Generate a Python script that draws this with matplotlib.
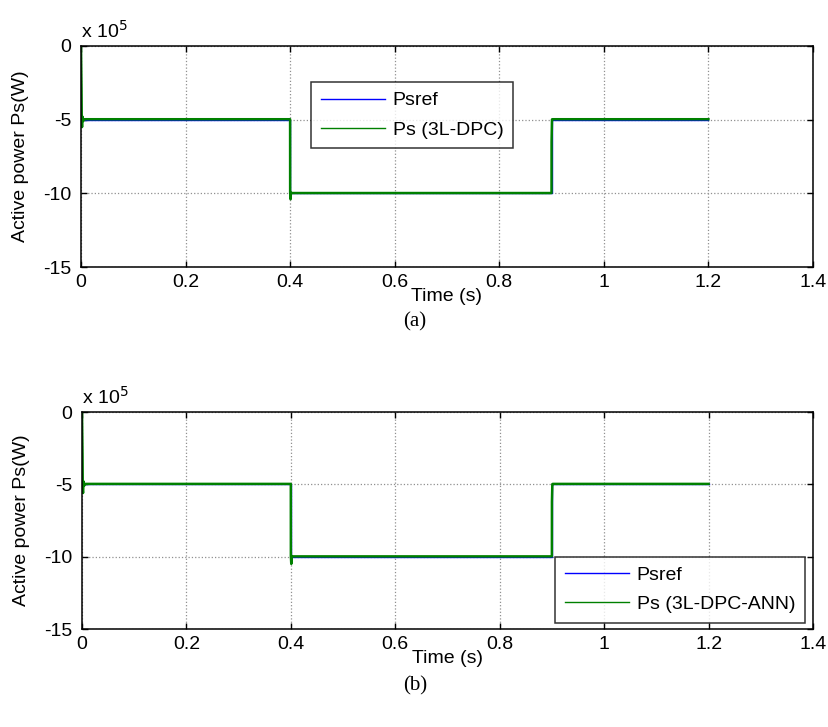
import matplotlib
matplotlib.use("Agg")
import matplotlib.pyplot as plt
from matplotlib.ticker import FuncFormatter

# ---- data ----
t_ref = [0.0, 0.4, 0.4, 0.9, 0.9, 1.2]
p_ref = [-5e5, -5e5, -10e5, -10e5, -5e5, -5e5]

t_dpc = [0.0, 0.001, 0.0015, 0.002, 0.003, 0.004, 0.006, 0.3999, 0.4, 0.4008, 0.4015, 0.403,
         0.8999, 0.9, 0.9008, 0.902, 1.2]
p_dpc = [0.0, -3.0e5, -5.2e5, -5.5e5, -4.8e5, -5.1e5, -4.97e5, -4.97e5, -9.95e5, -10.4e5, -9.95e5, -9.98e5,
         -9.98e5, -6.5e5, -4.98e5, -4.97e5, -4.97e5]

t_ann = [0.0, 0.001, 0.0015, 0.002, 0.003, 0.004, 0.006, 0.3999, 0.4, 0.4008, 0.4015, 0.403,
         0.8999, 0.9, 0.9008, 0.902, 1.2]
p_ann = [0.0, -3.0e5, -5.4e5, -5.6e5, -4.8e5, -5.1e5, -4.97e5, -4.97e5, -9.95e5, -10.5e5, -9.95e5, -9.98e5,
         -9.98e5, -6.2e5, -4.98e5, -4.97e5, -4.97e5]

x_ticks = [0, 0.2, 0.4, 0.6, 0.8, 1, 1.2, 1.4]
x_tick_labels = ["0", "0.2", "0.4", "0.6", "0.8", "1", "1.2", "1.4"]
y_ticks = [0, -5e5, -10e5, -15e5]

labels_a = ["Psref", "Ps (3L-DPC)"]
labels_b = ["Psref", "Ps (3L-DPC-ANN)"]

plt.rcParams['font.family'] = ['Liberation Sans', 'DejaVu Sans']

fig = plt.figure(figsize=(8.29, 7.27), dpi=100)

def W(px):
    return px / 829.0

def H(py):
    return 1 - py / 727.0

ax1 = fig.add_axes([W(81), H(267), W(813 - 81), H(46) - H(267)])
ax2 = fig.add_axes([W(82), H(629), W(813 - 82), H(412) - H(629)])

green = '#008000'
blue = '#0000ff'
FS = 14

def style(ax):
    ax.set_xlim(0, 1.4)
    ax.set_ylim(-15e5, 0)
    ax.set_xticks(x_ticks)
    ax.set_xticklabels(x_tick_labels)
    ax.set_yticks(y_ticks)
    ax.yaxis.set_major_formatter(FuncFormatter(lambda v, p: f"{v/1e5:g}"))
    ax.tick_params(direction='in', length=4, width=1, labelsize=FS,
                   top=True, right=True)
    ax.tick_params(axis='x', pad=5)
    ax.tick_params(axis='y', pad=7)
    ax.grid(True, linestyle=':', color='#909090', linewidth=0.9)
    for s in ax.spines.values():
        s.set_linewidth(1.1)
    ax.set_xlabel("Time (s)", fontsize=FS, labelpad=-2)
    ax.set_ylabel("Active power Ps(W)", fontsize=FS, labelpad=10)
    ax.text(0.0, 1.02, r"x 10$^{5}$", transform=ax.transAxes, fontsize=FS,
            ha='left', va='bottom')

def legend(ax, labels, loc, anchor):
    leg = ax.legend(labels=labels, loc=loc, bbox_to_anchor=anchor,
                    fontsize=FS, frameon=True, fancybox=False, edgecolor='black',
                    handlelength=3.3, borderpad=0.5, labelspacing=0.6,
                    handletextpad=0.4, borderaxespad=0)
    leg.get_frame().set_linewidth(1.1)
    for h in leg.get_lines():
        h.set_linewidth(1.0)
    return leg

ax1.plot(t_ref, p_ref, color=blue, linewidth=1.0)
ax1.plot(t_dpc, p_dpc, color=green, linewidth=1.8)
style(ax1)
legend(ax1, labels_a, 'upper left',
       ((311 - 81) / (813 - 81), 1 - (82 - 46) / (267 - 46)))

ax2.plot(t_ref, p_ref, color=blue, linewidth=1.0)
ax2.plot(t_ann, p_ann, color=green, linewidth=1.8)
style(ax2)
legend(ax2, labels_b, 'lower right',
       ((805 - 82) / (813 - 82), (629 - 623) / (629 - 412)))

fig.text(W(415), H(322), "(a)", family=['Liberation Serif'], fontsize=15, ha='center', va='center')
fig.text(W(415), H(686), "(b)", family=['Liberation Serif'], fontsize=15, ha='center', va='center')

fig.savefig("out.png", dpi=100)
